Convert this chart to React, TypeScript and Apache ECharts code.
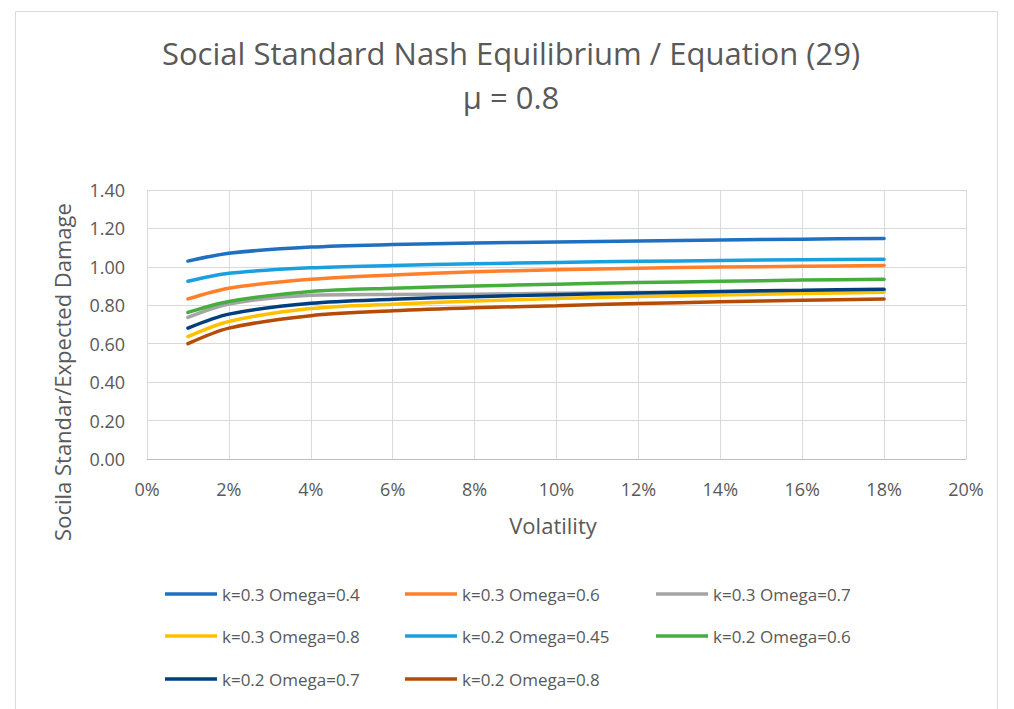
import React, { useEffect, useRef } from "react";
import * as echarts from "echarts";

const volatility = [1, 2, 4, 6, 8, 10, 12, 14, 16, 18];
const seriesNames = [
  "k=0.3 Omega=0.4",
  "k=0.3 Omega=0.6",
  "k=0.3 Omega=0.7",
  "k=0.3 Omega=0.8",
  "k=0.2 Omega=0.45",
  "k=0.2 Omega=0.6",
  "k=0.2 Omega=0.7",
  "k=0.2 Omega=0.8",
];
const k03w04 = [1.03, 1.071, 1.103, 1.116, 1.124, 1.13, 1.135, 1.14, 1.144, 1.148];
const k03w06 = [0.833, 0.889, 0.935, 0.958, 0.974, 0.985, 0.993, 0.999, 1.003, 1.007];
const k03w07 = [0.737, 0.807, 0.852, 0.856, 0.858, 0.862, 0.866, 0.87, 0.874, 0.878];
const k03w08 = [0.637, 0.716, 0.783, 0.806, 0.822, 0.835, 0.846, 0.854, 0.861, 0.868];
const k02w045 = [0.925, 0.967, 0.995, 1.007, 1.016, 1.023, 1.029, 1.033, 1.037, 1.04];
const k02w06 = [0.763, 0.82, 0.872, 0.889, 0.9, 0.91, 0.918, 0.925, 0.931, 0.936];
const k02w07 = [0.681, 0.754, 0.81, 0.831, 0.845, 0.855, 0.864, 0.872, 0.878, 0.884];
const k02w08 = [0.6, 0.681, 0.746, 0.771, 0.787, 0.798, 0.809, 0.818, 0.826, 0.833];
const seriesValues = [k03w04, k03w06, k03w07, k03w08, k02w045, k02w06, k02w07, k02w08];
const colors = ["#1F70C1", "#FF7F2A", "#A5A5A5", "#FFC000", "#1AA0DF", "#46AE3F", "#003E7E", "#B54B04"];

// legend slots (line start x, row center y) in chart coords
const legendCols = [157, 397, 648];
const legendRows = [586, 628, 671];

const FONT = "'Open Sans', 'Noto Sans', sans-serif";
const TXT = "#595959";

export default function App() {
  const ref = useRef<HTMLDivElement>(null);
  useEffect(() => {
    if (!ref.current) return;
    const chart = echarts.init(ref.current, undefined, { renderer: "svg" });
    const legends = seriesNames.map((name, i) => ({
      data: [name],
      left: legendCols[i % 3],
      top: legendRows[Math.floor(i / 3)] - 12,
      padding: 0,
      icon: "rect",
      itemWidth: 52,
      itemHeight: 3.5,
      selectedMode: false,
      textStyle: { color: TXT, fontSize: 17, fontFamily: FONT, lineHeight: 24 },
    }));
    chart.setOption({
      animation: false,
      color: colors,
      textStyle: { fontFamily: FONT },
      graphic: [
        {
          type: "rect",
          left: 5,
          top: 1,
          shape: { width: 982, height: 720 },
          style: { fill: "none", stroke: "#d9d9d9", lineWidth: 1 },
          silent: true,
        },
        {
          type: "text",
          x: 503,
          y: 45,
          style: {
            text: "Social Standard Nash Equilibrium / Equation (29)",
            fill: TXT,
            font: `31px ${FONT}`,
            align: "center",
            verticalAlign: "middle",
          },
        },
        {
          type: "text",
          x: 503,
          y: 89,
          style: {
            text: "μ = 0.8",
            fill: TXT,
            font: `31px ${FONT}`,
            align: "center",
            verticalAlign: "middle",
          },
        },
        {
          type: "text",
          x: 545,
          y: 517,
          style: {
            text: "Volatility",
            fill: TXT,
            font: `22px ${FONT}`,
            align: "center",
            verticalAlign: "middle",
          },
        },
        {
          type: "text",
          x: 54,
          y: 364,
          rotation: Math.PI / 2,
          style: {
            text: "Socila Standar/Expected Damage",
            fill: TXT,
            font: `22px ${FONT}`,
            align: "center",
            verticalAlign: "middle",
          },
        },
      ],
      legend: legends,
      grid: { left: 139, top: 182, right: 40, bottom: 250, containLabel: false },
      xAxis: {
        type: "value",
        min: 0,
        max: 20,
        interval: 2,
        axisLine: { show: true, lineStyle: { color: "#bfbfbf", width: 1 } },
        axisTick: { show: false },
        splitLine: { show: true, lineStyle: { color: "#d9d9d9", width: 1 } },
        axisLabel: { formatter: "{value}%", color: TXT, fontSize: 18, fontFamily: FONT, margin: 21 },
      },
      yAxis: {
        type: "value",
        min: 0,
        max: 1.4,
        interval: 0.2,
        axisLine: { show: false },
        axisTick: { show: false },
        splitLine: { show: true, lineStyle: { color: "#d9d9d9", width: 1 } },
        axisLabel: {
          formatter: (v: number) => v.toFixed(2),
          color: TXT,
          fontSize: 18,
          fontFamily: FONT,
          margin: 22,
        },
      },
      series: seriesNames.map((name, i) => ({
        name,
        type: "line",
        smooth: 0.3,
        symbol: "none",
        lineStyle: { width: 3.5, color: colors[i], cap: "round" },
        itemStyle: { color: colors[i] },
        data: volatility.map((x, j) => [x, seriesValues[i][j]]),
      })),
    });
    return () => chart.dispose();
  }, []);
  return <div ref={ref} style={{ width: 998, height: 701 }} />;
}
